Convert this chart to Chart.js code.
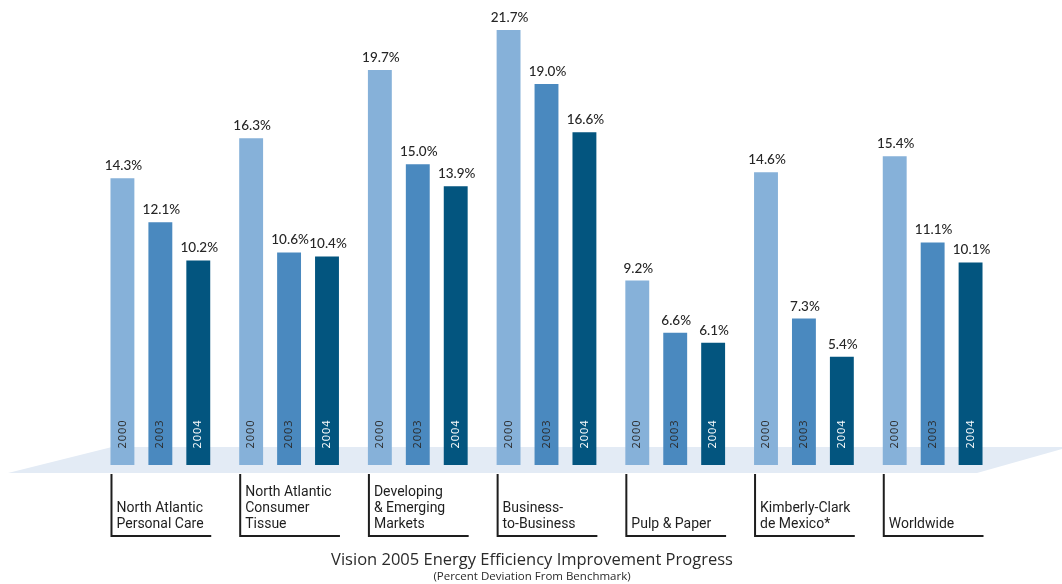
<!DOCTYPE html>
<html>
<head>
<meta charset="utf-8">
<title>Vision 2005 Energy Efficiency Improvement Progress</title>
<script src="https://cdn.jsdelivr.net/npm/chart.js@4/dist/chart.umd.min.js"></script>
<style>
    html, body { margin: 0; padding: 0; background: #ffffff; }
    #wrap { width: 1062px; height: 584px; position: relative; }
</style>
</head>
<body>
<div id="wrap"><canvas id="myChart" width="1062" height="584"></canvas></div>
<script>
// business units, each one a list of label lines
const categories = [
    ['North Atlantic', 'Personal Care'],
    ['North Atlantic', 'Consumer', 'Tissue'],
    ['Developing', '& Emerging', 'Markets'],
    ['Business-', 'to-Business'],
    ['Pulp & Paper'],
    ['Kimberly-Clark', 'de Mexico*'],
    ['Worldwide']
];
const years = ['2000', '2003', '2004'];
const values2000 = [14.3, 16.3, 19.7, 21.7, 9.2, 14.6, 15.4];
const values2003 = [12.1, 10.6, 15.0, 19.0, 6.6, 7.3, 11.1];
const values2004 = [10.2, 10.4, 13.9, 16.6, 6.1, 5.4, 10.1];

const barColors = ['#86b1d9', '#4a89bf', '#03557f'];
const yearTextColors = ['#2b2b2b', '#2b2b2b', '#ffffff'];

//Floor, labels and brackets
const decorPlugin = {
    id: 'decor',
    beforeDatasetsDraw(chart) {
        const ctx = chart.ctx;
        const area = chart.chartArea;
        ctx.save();
        ctx.fillStyle = '#e3ebf5';
        ctx.beginPath();
        ctx.moveTo(112, area.bottom - 18);
        ctx.lineTo(1062, area.bottom - 18);
        ctx.lineTo(1062, area.bottom - 16);
        ctx.lineTo(977, area.bottom + 8);
        ctx.lineTo(8, area.bottom + 8);
        ctx.closePath();
        ctx.fill();
        ctx.restore();
    },
    afterDatasetsDraw(chart) {
        const ctx = chart.ctx;
        const area = chart.chartArea;
        ctx.save();

        //year inside bars + value on top
        chart.data.datasets.forEach((ds, di) => {
            const meta = chart.getDatasetMeta(di);
            meta.data.forEach((bar, i) => {
                ctx.save();
                ctx.translate(bar.x, area.bottom - 31);
                ctx.rotate(-Math.PI / 2);
                ctx.fillStyle = yearTextColors[di];
                ctx.font = '11px "Open Sans"';
                ctx.letterSpacing = '1px';
                ctx.textAlign = 'center';
                ctx.textBaseline = 'middle';
                ctx.fillText(years[di], 0, 0);
                ctx.restore();

                ctx.fillStyle = '#262626';
                ctx.font = '500 13.5px Lato';
                ctx.textAlign = 'center';
                ctx.textBaseline = 'alphabetic';
                ctx.fillText(ds.data[i].toFixed(1) + '%', bar.x + 1, bar.y - 8);
            });
        });

        //category brackets
        const first = chart.getDatasetMeta(0).data;
        const last = chart.getDatasetMeta(2).data;
        categories.forEach((lines, i) => {
            const left = first[i].x - first[i].width / 2;
            const right = last[i].x + last[i].width / 2;
            const bottom = area.bottom + 71;
            ctx.strokeStyle = '#1e1e1e';
            ctx.lineWidth = 2;
            ctx.beginPath();
            ctx.moveTo(left + 1, area.bottom + 9);
            ctx.lineTo(left + 1, bottom);
            ctx.lineTo(right + 1, bottom);
            ctx.stroke();

            ctx.fillStyle = '#1e1e1e';
            ctx.font = '14px Roboto';
            ctx.textAlign = 'left';
            ctx.textBaseline = 'alphabetic';
            lines.forEach((line, k) => {
                const y = bottom - 8 - (lines.length - 1 - k) * 16;
                ctx.fillText(line, left + 6, y);
            });
        });

        //title
        ctx.fillStyle = '#2a2a2a';
        ctx.textAlign = 'center';
        ctx.font = '16.5px "Open Sans"';
        ctx.fillText('Vision 2005 Energy Efficiency Improvement Progress', 532, 565);
        ctx.font = '11.5px "Open Sans"';
        ctx.fillText('(Percent Deviation From Benchmark)', 532, 580);
        ctx.restore();
    }
};

new Chart(document.getElementById('myChart'), {
    type: 'bar',
    data: {
        labels: categories,
        datasets: [
            {label: years[0], data: values2000, backgroundColor: barColors[0]},
            {label: years[1], data: values2003, backgroundColor: barColors[1]},
            {label: years[2], data: values2004, backgroundColor: barColors[2]}
        ]
    },
    options: {
        responsive: false,
        animation: false,
        layout: {
            padding: {left: 96, right: 65, top: 0, bottom: 119}
        },
        datasets: {
            bar: {
                categoryPercentage: 0.884,
                barPercentage: 0.63,
                borderWidth: 0
            }
        },
        scales: {
            x: {display: false},
            y: {display: false, min: 0, max: 23.19}
        },
        plugins: {
            legend: {display: false},
            tooltip: {enabled: false},
            title: {display: false}
        }
    },
    plugins: [decorPlugin]
});
</script>
</body>
</html>
